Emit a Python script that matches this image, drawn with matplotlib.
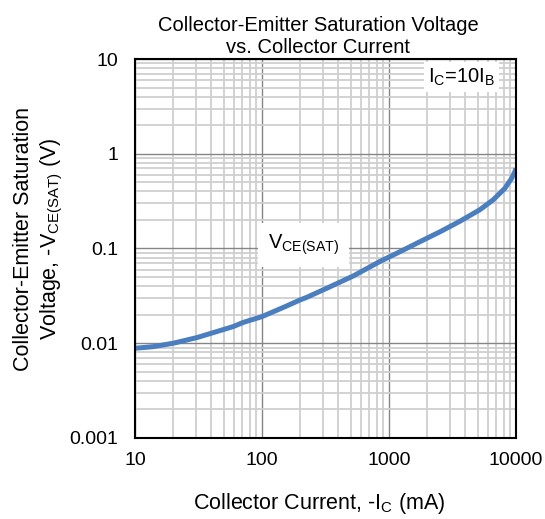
import matplotlib
matplotlib.use('Agg')
import matplotlib.pyplot as plt
from matplotlib.ticker import FixedLocator, LogLocator, NullFormatter
import numpy as np

# Fonte parecida com Arial
plt.rcParams['font.family'] = ['Liberation Sans', 'DejaVu Sans']
plt.rcParams['mathtext.fontset'] = 'custom'
plt.rcParams['mathtext.rm'] = 'Liberation Sans'
plt.rcParams['mathtext.it'] = 'Liberation Sans'

# Dados: Ic (mA) x Vce(sat) (V)
ic_ma = [10, 13.9, 20, 30.6, 46.7, 59.4, 71.3, 100, 156, 199, 225, 323, 524, 849,
         1221, 1754, 2521, 3624, 5210, 6625, 8185, 9250, 9820, 10000]
vce_sat = [0.00885, 0.0092, 0.0100, 0.01145, 0.0136, 0.0150, 0.0166, 0.0191, 0.0247,
           0.0286, 0.0305, 0.038, 0.0513, 0.073, 0.0925, 0.118, 0.150, 0.194, 0.257,
           0.327, 0.432, 0.551, 0.65, 0.70]

x_ticks = [10, 100, 1000, 10000]
x_labels = ['10', '100', '1000', '10000']
y_ticks = [0.001, 0.01, 0.1, 1, 10]
y_labels = ['0.001', '0.01', '0.1', '1', '10']

fig = plt.figure(figsize=(5.45, 5.19), dpi=100)
ax = fig.add_axes([0.2477, 0.1561, 0.699, 0.7302])

ax.set_xscale('log')
ax.set_yscale('log')
ax.set_xlim(10, 10000)
ax.set_ylim(0.001, 10)

ax.xaxis.set_major_locator(FixedLocator(x_ticks))
ax.set_xticklabels(x_labels)
ax.yaxis.set_major_locator(FixedLocator(y_ticks))
ax.set_yticklabels(y_labels)
ax.xaxis.set_minor_locator(LogLocator(base=10, subs=np.arange(2, 10)))
ax.yaxis.set_minor_locator(LogLocator(base=10, subs=np.arange(2, 10)))
ax.xaxis.set_minor_formatter(NullFormatter())
ax.yaxis.set_minor_formatter(NullFormatter())

ax.grid(which='minor', color='#cfcfcf', linewidth=1.3)
ax.grid(which='major', color='#858585', linewidth=1.0)
ax.set_axisbelow(True)
ax.tick_params(which='both', length=0, labelsize=14)
ax.tick_params(axis='x', pad=10)
ax.tick_params(axis='y', pad=12)

for s in ax.spines.values():
    s.set_linewidth(1.5)
    s.set_color('black')

ax.plot(ic_ma, vce_sat, color='#4a7ebf', linewidth=3.6, solid_capstyle='butt',
        solid_joinstyle='round')

# Anotacoes
ax.text(0.945, 0.9525, r'$\mathrm{I_C}$=10$\mathrm{I_B}$', transform=ax.transAxes,
        ha='right', va='center', fontsize=14.5,
        bbox=dict(facecolor='white', edgecolor='none', pad=3))
ax.text(0.349, 0.509, r'$\mathrm{V_{CE(SAT)}}$', transform=ax.transAxes,
        ha='left', va='center', fontsize=14.5,
        bbox=dict(facecolor='white', edgecolor='none', pad=7))

ax.set_title('Collector-Emitter Saturation Voltage\nvs. Collector Current',
             fontsize=14.5, pad=4, linespacing=1.2, x=0.4816)
ax.set_xlabel(r'Collector Current, -$\mathrm{I_C}$ (mA)', fontsize=15.5, labelpad=14)
ax.xaxis.set_label_coords(0.483, -0.14)
ax.set_ylabel('Collector-Emitter Saturation\n' + r'Voltage, -$\mathrm{V_{CE(SAT)}}$ (V)',
              fontsize=15.5, linespacing=1.25)
ax.yaxis.set_label_coords(-0.184, 0.526)

fig.savefig('out.png', dpi=100)
plt.close('all')
